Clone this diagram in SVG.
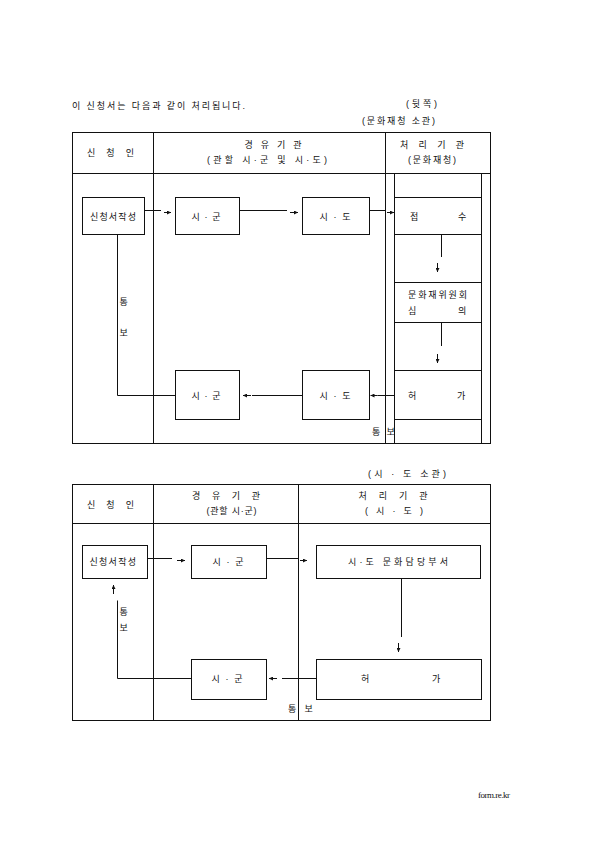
<svg xmlns="http://www.w3.org/2000/svg" width="595" height="842" viewBox="0 0 595 842">
<style>
.t{font-family:"Liberation Sans","Noto Sans CJK KR",sans-serif;font-size:9px;fill:#111}
.c{text-anchor:middle}
.b{fill:none;stroke:#111;stroke-width:1}
.ln{fill:none;stroke:#111;stroke-width:1}
.ar{fill:none;stroke:#111;stroke-width:1;marker-end:url(#ah)}
.u{font-family:"Liberation Serif",serif;font-size:9px;fill:#111}
</style>
<defs>
<marker id="ah" markerUnits="userSpaceOnUse" markerWidth="4" markerHeight="4" viewBox="0 0 4 4" refX="4" refY="2" orient="auto">
<path d="M0,0 L4,2 L0,4 z" fill="#111"/>
</marker>
</defs>
<rect width="595" height="842" fill="#fff"/>

<g id="titles">
<text class="t" x="72" y="108.5" textLength="173" lengthAdjust="spacing">이 신청서는 다음과 같이 처리됩니다.</text>
<text class="t" x="406" y="107" textLength="31" lengthAdjust="spacing">(뒷쪽)</text>
<text class="t" x="362" y="124" textLength="73" lengthAdjust="spacing">(문화재청 소관)</text>
<text class="t" x="368" y="476.5" textLength="78" lengthAdjust="spacing">(시 · 도 소관)</text>
<text class="u" x="478" y="798" textLength="32" lengthAdjust="spacing">form.re.kr</text>
</g>

<g id="table1">
<rect class="b" x="72.5" y="132.5" width="418" height="311"/>
<path class="ln" d="M72.5,173.5 H490.5 M153.5,132.5 V443.5 M385.5,132.5 V443.5 M394.5,173.5 V443.5 M481.5,173.5 V443.5"/>
<path class="ln" d="M394.5,197.5 H481.5 M394.5,234.5 H481.5 M394.5,282.5 H481.5 M394.5,322.5 H481.5 M394.5,370.5 H481.5 M394.5,419.5 H481.5"/>
<text class="t c" x="110.5" y="156" textLength="47" lengthAdjust="spacing">신 청 인</text>
<text class="t c" x="273" y="147.5" textLength="57" lengthAdjust="spacing">경 유 기 관</text>
<text class="t c" x="267" y="162.5" textLength="120" lengthAdjust="spacing">(관할 시·군 및 시·도)</text>
<text class="t c" x="432" y="147.5" textLength="64" lengthAdjust="spacing">처 리 기 관</text>
<text class="t c" x="432" y="162.5" textLength="48" lengthAdjust="spacing">(문화재청)</text>
</g>

<g id="t1-apply">
<rect class="b" x="82.5" y="197.5" width="62" height="37"/>
<text class="t" x="90" y="219.5" textLength="46" lengthAdjust="spacing">신청서작성</text>
</g>
<g id="t1-sigun">
<rect class="b" x="175.5" y="197.5" width="64" height="37"/>
<text class="t c" x="206" y="219.5" textLength="29" lengthAdjust="spacing">시·군</text>
</g>
<g id="t1-sido">
<rect class="b" x="302.5" y="197.5" width="67" height="37"/>
<text class="t c" x="335" y="219.5" textLength="31" lengthAdjust="spacing">시·도</text>
</g>
<g id="t1-receipt">
<text class="t" x="410" y="219.5">접</text>
<text class="t" x="458" y="219.5">수</text>
</g>
<g id="t1-committee">
<text class="t" x="408" y="297.8" textLength="59" lengthAdjust="spacing">문화재위원회</text>
<text class="t" x="408" y="314">심</text>
<text class="t" x="458" y="314">의</text>
</g>
<g id="t1-permit">
<text class="t" x="408" y="398.6">허</text>
<text class="t" x="457" y="398.6">가</text>
</g>
<g id="t1-sido2">
<rect class="b" x="302.5" y="370.5" width="67" height="49"/>
<text class="t c" x="335" y="398.6" textLength="31" lengthAdjust="spacing">시·도</text>
</g>
<g id="t1-sigun2">
<rect class="b" x="175.5" y="370.5" width="64" height="49"/>
<text class="t c" x="206" y="398.6" textLength="29" lengthAdjust="spacing">시·군</text>
</g>

<g id="table2">
<rect class="b" x="72.5" y="484.5" width="418" height="236"/>
<path class="ln" d="M72.5,523.5 H490.5 M153.5,484.5 V720.5 M298.5,484.5 V720.5"/>
<text class="t c" x="110.5" y="507.5" textLength="47" lengthAdjust="spacing">신 청 인</text>
<text class="t c" x="226" y="499.3" textLength="68" lengthAdjust="spacing">경 유 기 관</text>
<text class="t c" x="231.5" y="514.3" textLength="50" lengthAdjust="spacing">(관할 시·군)</text>
<text class="t c" x="393" y="499.3" textLength="69" lengthAdjust="spacing">처 리 기 관</text>
<text class="t c" x="394" y="514.3" textLength="58" lengthAdjust="spacing">( 시 · 도 )</text>
</g>

<g id="t2-apply">
<rect class="b" x="82.5" y="545.5" width="65" height="33"/>
<text class="t" x="89.5" y="565" textLength="46.5" lengthAdjust="spacing">신청서작성</text>
</g>
<g id="t2-sigun">
<rect class="b" x="191.5" y="545.5" width="75" height="33"/>
<text class="t c" x="228" y="565" textLength="31" lengthAdjust="spacing">시·군</text>
</g>
<g id="t2-dept">
<rect class="b" x="316.5" y="545.5" width="164" height="33"/>
<text class="t c" x="398" y="565" textLength="100" lengthAdjust="spacing">시·도 문화담당부서</text>
</g>
<g id="t2-permit">
<rect class="b" x="316.5" y="659.5" width="165" height="40"/>
<text class="t" x="361" y="682">허</text>
<text class="t" x="432" y="682">가</text>
</g>
<g id="t2-sigun2">
<rect class="b" x="191.5" y="659.5" width="75" height="40"/>
<text class="t c" x="227" y="682" textLength="31" lengthAdjust="spacing">시·군</text>
</g>

<g id="connectors">
<path class="ln" d="M144.5,210.5 H161"/>
<path class="ar" d="M164,212.5 H171"/>
<path class="ln" d="M239.5,210.5 H287"/>
<path class="ar" d="M290,212.5 H298"/>
<path class="ln" d="M369.5,210.5 H385.5"/>
<path class="ar" d="M387,212.5 H394"/>
<path class="ln" d="M441.5,234.5 V257"/>
<path class="ar" d="M437.5,263 V272"/>
<path class="ln" d="M441.5,322.5 V346"/>
<path class="ar" d="M437.5,354 V363"/>
<path class="ln" d="M394.5,395.5 H377.5"/>
<path class="ar" d="M377.5,395.5 H370.5"/>
<path class="ln" d="M302.5,395.5 H252"/>
<path class="ar" d="M251,395.5 H243"/>
<path class="ln" d="M117.5,234.5 V395.5 H175.5"/>
<text class="t" x="119.5" y="305.3">통</text>
<text class="t" x="119.5" y="336.3">보</text>
<text class="t" x="372" y="435">통</text>
<text class="t" x="386.5" y="435">보</text>

<path class="ln" d="M147.5,558.5 H172"/>
<path class="ar" d="M177,560.5 H185"/>
<path class="ln" d="M266.5,558.5 H298.5"/>
<path class="ar" d="M300,560.5 H307"/>
<path class="ln" d="M401.5,578.5 V637"/>
<path class="ar" d="M398.5,643 V652"/>
<path class="ln" d="M316.5,678.5 H282"/>
<path class="ar" d="M277,678.5 H269"/>
<path class="ln" d="M191.5,678.5 H117.5 V600.5"/>
<path class="ar" d="M113.5,594 V585"/>
<text class="t" x="119.5" y="615">통</text>
<text class="t" x="119.5" y="630.5">보</text>
<text class="t" x="288" y="712">통</text>
<text class="t" x="304.5" y="712">보</text>
</g>
</svg>
